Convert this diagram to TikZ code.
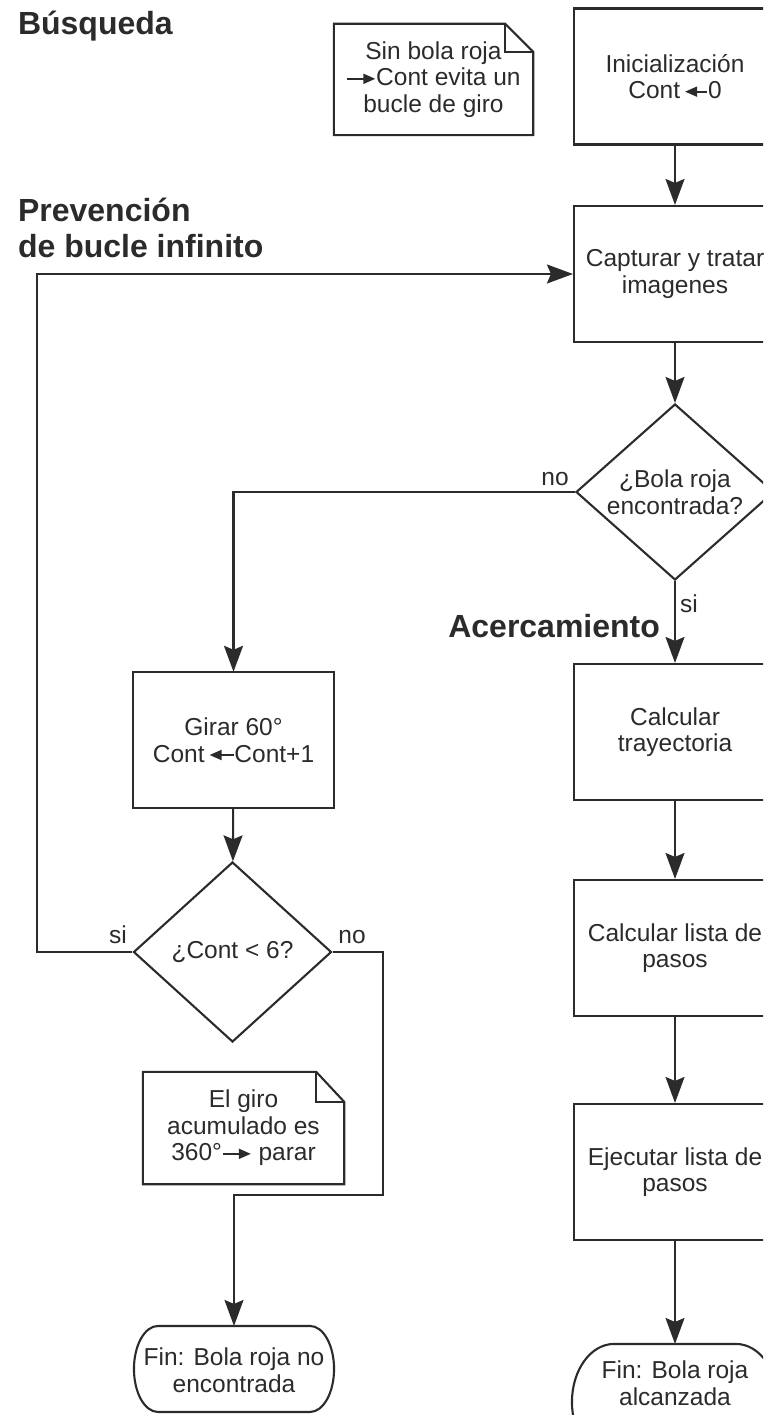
\documentclass[tikz,border=0pt]{standalone}
\usepackage{fontspec}
\setmainfont{Liberation Sans}
\usetikzlibrary{arrows.meta,shapes.geometric,calc}
\definecolor{ink}{HTML}{2B2B2B}
% body and heading fonts
\newcommand{\bodyfont}{\fontsize{24.5}{26.5}\selectfont}
\newcommand{\headfont}{\fontsize{32}{36}\selectfont\bfseries}
% small arrows used inside the texts
\newcommand{\arrR}[1][26]{\tikz[baseline={(0,-7pt)},x=1pt,y=1pt]\draw[draw=ink,line width=1.8pt,-{Triangle[length=12pt,width=10pt]}](0,0)--(#1,0);}
\newcommand{\arrL}[1][26]{\tikz[baseline={(0,-7pt)},x=1pt,y=1pt]\draw[draw=ink,line width=1.8pt,{Triangle[length=12pt,width=10pt]}-](0,0)--(#1,0);}
% outline of a terminal hanging from the top edge of a node:
% #1 node, #2 horizontal radius of the ends, #3 vertical radius of the ends
\newcommand{\termoutline}[3]{%
  \draw ([xshift=#2]#1.north west) -- ([xshift=-#2]#1.north east)
    arc[start angle=90,end angle=-90,x radius=#2,y radius=#3]
    -- ++($(#1.north west)-(#1.north east)+(2*#2,0)$)
    arc[start angle=270,end angle=90,x radius=#2,y radius=#3] -- cycle;}
% outline of a note with a folded corner
\newcommand{\noteoutline}[3]{%
  \draw (#1.north west) -- ([xshift=-#2]#1.north east) -- ([yshift=-#3]#1.north east)
    -- (#1.south east) -- (#1.south west) -- cycle;
  \draw ([xshift=-#2]#1.north east) |- ([yshift=-#3]#1.north east);}
\begin{document}
\begin{tikzpicture}[x=1pt,y=-1pt,line width=2.1pt,color=ink,
  box/.style={draw,rectangle,minimum width=202pt,minimum height=136pt,inner sep=0pt,align=center,font=\bodyfont},
  dec/.style={draw,diamond,shape aspect=1.125,minimum width=198pt,minimum height=176pt,inner sep=0pt,align=center,font=\bodyfont},
  term/.style={rectangle,minimum width=#1,inner sep=0pt,align=center,font=\bodyfont},
  notebox/.style={rectangle,inner sep=0pt,align=center,font=\bodyfont},
  lbl/.style={inner sep=0pt,font=\bodyfont},
  heading/.style={inner sep=0pt,font=\headfont},
  flow/.style={-{Stealth[length=26pt,width=19pt,inset=4pt]}}]
\useasboundingbox (0,0) rectangle (763,1415);
\clip (0,0) rectangle (763,1415);

% headings
\node[heading,anchor=base west] (hBus) at (17,35) {Búsqueda};
\node[heading,anchor=base west] (hPrev1) at (17,222) {Prevención};
\node[heading,anchor=base west] (hPrev2) at (17,258) {de bucle infinito};
\node[heading,anchor=base east] (hAcer) at (661,637) {Acercamiento};

% main column
\node[box] (init) at (675,76.5) {Inicialización\\Cont\,\arrL[22]0};
\node[box] (cap) at (675,274) {Capturar y tratar\\imagenes};
\node[dec] (d1) at (675,492) {¿Bola roja\\encontrada?};
\node[box] (tray) at (675,732) {Calcular\\trayectoria};
\node[box] (lista) at (675,948) {Calcular lista de\\pasos};
\node[box] (ejec) at (675,1172) {Ejecutar lista de\\pasos};
\node[term=204pt,minimum height=76pt] (fin2) at (675,1383) {Fin: Bola roja\\alcanzada};
\termoutline{fin2}{42pt}{58pt}

% turning branch
\node[box,minimum width=201pt] (girar) at (233.5,740) {Girar 60°\\Cont\,\arrL[24]Cont+1};
\node[dec,minimum height=180pt] (d2) at (232.5,952) {¿Cont < 6?};
\node[term=198pt,minimum height=86pt] (fin1) at (234,1370) {Fin: Bola roja no\\encontrada};
\termoutline{fin1}{24pt}{43pt}

% notes
\node[notebox,minimum width=199pt,minimum height=111pt] (n1) at (433.5,79.5)
  {Sin bola roja\\\arrR[28]Cont evita un\\bucle de giro};
\noteoutline{n1}{28pt}{28pt}
\node[notebox,minimum width=201pt,minimum height=112pt] (n2) at (243.5,1128)
  {El giro\\acumulado es\\360°\arrR[28]\ parar};
\noteoutline{n2}{28pt}{30pt}

% connectors
\coordinate (loopL) at (37,952);
\coordinate (noR) at (383,952);
\coordinate (noB) at (383,1195);
\draw[flow] (init) -- (cap);
\draw[flow] (cap) -- (d1);
\draw[flow] (d1.west) -| (girar.north);
\draw[flow] (d1.south) -- (tray.north);
\draw[flow] (tray) -- (lista);
\draw[flow] (lista) -- (ejec);
\draw[flow] (ejec.south) -- (fin2.north);
\draw[flow] (girar) -- (d2);
\draw[flow] (d2.west) -- (loopL) |- (cap.west);
\draw[flow] (d2.east) -- (noR) -- (noB) -| (fin1.north);

% branch labels
\node[lbl,anchor=base] (no1) at (555,485) {no};
\node[lbl,anchor=base west] (si1) at (679,612) {si};
\node[lbl,anchor=base] (si2) at (118,943) {si};
\node[lbl,anchor=base] (no2) at (352,943) {no};
\end{tikzpicture}
\end{document}
